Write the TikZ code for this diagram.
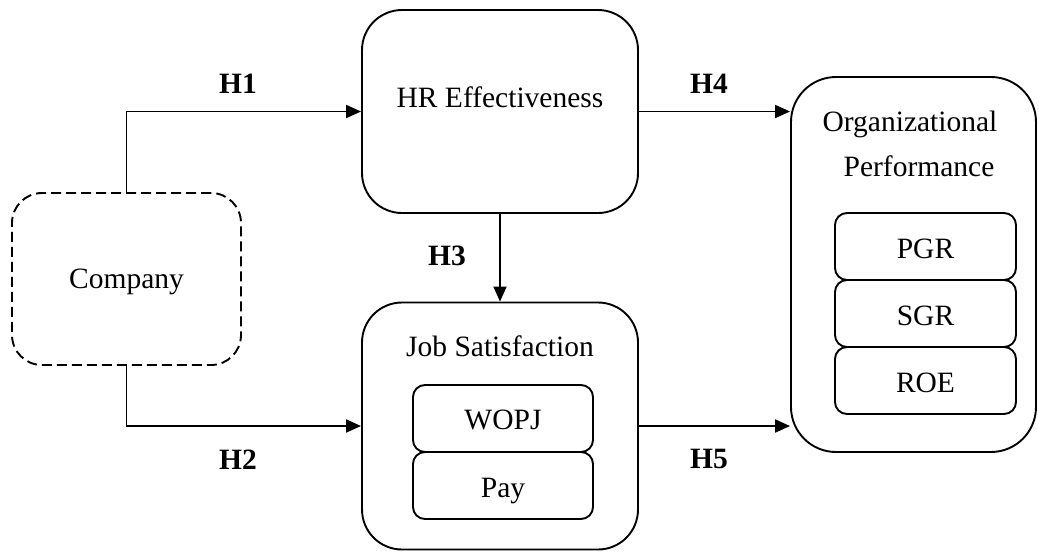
\documentclass[tikz,border=0pt]{standalone}
\usepackage{fontspec}
\setmainfont{Liberation Serif}
\usetikzlibrary{arrows.meta}
\begin{document}
\begin{tikzpicture}[x=1pt,y=-1pt,
  every node/.style={font=\fontsize{29.5}{35}\selectfont},
  box/.style={draw, line width=1.9pt, inner sep=0pt, rectangle},
  bigbox/.style={box, rounded corners=40pt},
  subbox/.style={box, rounded corners=12pt},
  txt/.style={anchor=base, inner sep=0pt},
  hyp/.style={anchor=base, inner sep=0pt, font=\fontsize{29.5}{35}\selectfont\bfseries},
  conn/.style={line width=1.9pt, -{Triangle[length=15pt,width=13pt]}}]
\useasboundingbox (0,0) rectangle (1039,552);

% main blocks
\node[box, rounded corners=30pt, dash pattern=on 10pt off 5pt,
      minimum width=229pt, minimum height=172pt] (co) at (126.5,279) {};
\node[bigbox, minimum width=276pt, minimum height=203pt] (hr) at (500,111.5) {};
\node[bigbox, minimum width=276pt, minimum height=247pt] (js) at (500,426) {};
\node[bigbox, rounded corners=45pt, minimum width=245pt, minimum height=375pt] (op) at (913.5,264.5) {};

% block titles
\node[txt] (tco) at (126.5,288) {Company};
\node[txt] (thr) at (500,107) {HR Effectiveness};
\node[txt] (tjs) at (500,356) {Job Satisfaction};
\node[txt] (top1) at (910,131) {Organizational};
\node[txt] (top2) at (919,176) {Performance};

% job satisfaction facets
\node[subbox, minimum width=180pt, minimum height=67pt] (wopj) at (503,418.5) {};
\node[subbox, minimum width=180pt, minimum height=67pt] (pay) at (503,485.5) {};
\node[txt] (twopj) at (503,429) {WOPJ};
\node[txt] (tpay) at (503,497) {Pay};

% performance measures
\node[subbox, minimum width=181pt, minimum height=67pt] (pgr) at (925.5,246.5) {};
\node[subbox, minimum width=181pt, minimum height=67pt] (sgr) at (925.5,313.5) {};
\node[subbox, minimum width=181pt, minimum height=67pt] (roe) at (925.5,380.5) {};
\node[txt] (tpgr) at (925.5,258) {PGR};
\node[txt] (tsgr) at (925.5,325) {SGR};
\node[txt] (troe) at (925.5,392) {ROE};

% hypothesised paths
\draw[conn] (co.north) |- (hr.west);
\draw[conn] (co.south) |- (js.west);
\draw[conn] (hr.south) -- (js.north);
\draw[conn] (hr.east) -- (hr.east -| op.west);
\draw[conn] (js.east) -- (js.east -| op.west);

\node[hyp] (h1) at (238,93) {H1};
\node[hyp] (h2) at (238,469) {H2};
\node[hyp] (h3) at (447,265) {H3};
\node[hyp] (h4) at (709,93) {H4};
\node[hyp] (h5) at (709,468) {H5};
\end{tikzpicture}
\end{document}
